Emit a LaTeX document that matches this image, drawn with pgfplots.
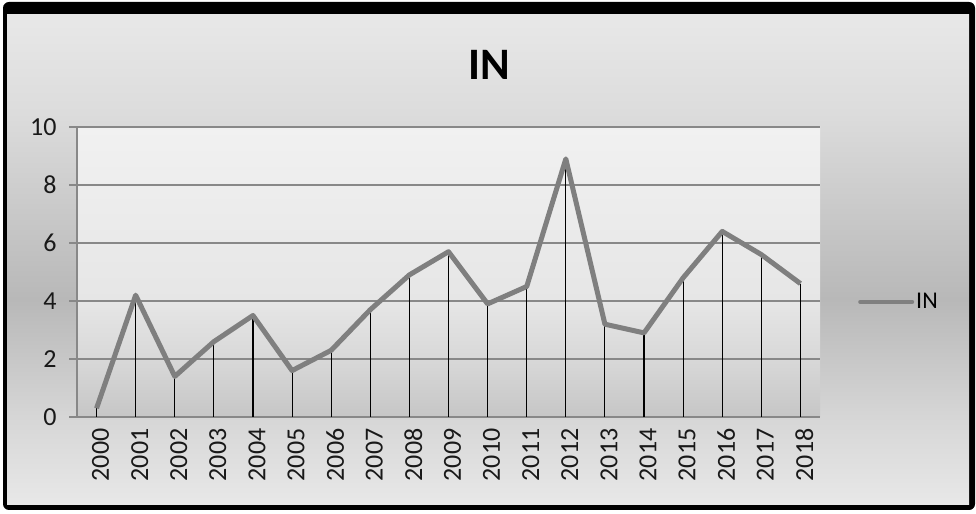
\documentclass[border=0pt]{standalone}
\usepackage{pgfplots}
\pgfplotsset{compat=1.18}
\usepackage{pgfplotstable}
\usepackage{fontspec}
\setmainfont{Carlito}
\definecolor{bgA}{HTML}{E8E8E8}
\definecolor{bgB}{HTML}{D6D6D6}
\definecolor{bgC}{HTML}{B8B8B8}
\definecolor{bgD}{HTML}{DCDCDC}
\definecolor{pA}{HTML}{C6C6C6}
\definecolor{pB}{HTML}{D8D8D8}
\definecolor{pC}{HTML}{E6E6E6}
\definecolor{pD}{HTML}{F1F1F1}
\definecolor{lineg}{HTML}{7F7F7F}
\definecolor{gridg}{HTML}{888888}
\pgfdeclareverticalshading{outerbg}{100bp}{color(0bp)=(bgA); color(25bp)=(bgA); color(34bp)=(bgB); color(46bp)=(bgC); color(65bp)=(bgD); color(75bp)=(bgA); color(100bp)=(bgA)}
\pgfdeclareverticalshading{plotbg}{100bp}{color(0bp)=(pA); color(25bp)=(pA); color(35bp)=(pB); color(45bp)=(pC); color(75bp)=(pD); color(100bp)=(pD)}
\pgfplotstableread{
x y
0 0.3
1 4.2
2 1.4
3 2.6
4 3.5
5 1.6
6 2.3
7 3.7
8 4.9
9 5.7
10 3.9
11 4.5
12 8.9
13 3.2
14 2.9
15 4.8
16 6.4
17 5.6
18 4.6
}\data
\begin{document}
\begin{tikzpicture}
\path (0,0) rectangle (976bp,514bp);
\fill[black, rounded corners=6bp] (3bp,4bp) rectangle (975bp,512bp);
\shade[shading=outerbg] (7bp,9bp) rectangle (969bp,499bp);
\node[font=\fontsize{45bp}{45bp}\selectfont\bfseries] at (489bp,449bp) {IN};
\begin{axis}[
  at={(77bp,97bp)}, anchor=south west,
  scale only axis, width=743bp, height=290bp,
  xmin=-0.5, xmax=18.5, ymin=0, ymax=10,
  xtick={0,1,2,3,4,5,6,7,8,9,10,11,12,13,14,15,16,17,18},
  xticklabels={2000,2001,2002,2003,2004,2005,2006,2007,2008,2009,2010,2011,2012,2013,2014,2015,2016,2017,2018},
  ytick={0,2,4,6,8,10},
  /pgf/number format/assume math mode=true,
  ticklabel style={font=\fontsize{26bp}{26bp}\selectfont, text=black!90},
  x tick label style={rotate=90, anchor=east, yshift=-4bp},
  y tick label style={xshift=-9bp},
  tick align=outside,
  major tick length=8bp,
  xtick style={draw=none},
  ytick style={gridg, line width=1.3bp},
  ymajorgrids,
  grid style={gridg, line width=1.3bp},
  axis x line*=bottom, axis y line*=left,
  axis line style={gridg, line width=1.3bp, -},
  axis background/.style={shading=plotbg},
  legend style={at={(axis description cs:1,0.397)}, anchor=west, xshift=38bp, draw=none, fill=none, inner sep=0pt, nodes={inner sep=2bp}, font=\fontsize{24bp}{24bp}\selectfont},
  legend image code/.code={\draw[lineg, line width=4bp, line cap=round] (2bp,0bp) -- (54bp,0bp);},
]
\addplot[ycomb, black, line width=1.1bp, forget plot] table {\data};
\addplot[lineg, line width=5bp, line join=round] table {\data};
\addlegendentry{IN}
\end{axis}
\end{tikzpicture}
\end{document}
